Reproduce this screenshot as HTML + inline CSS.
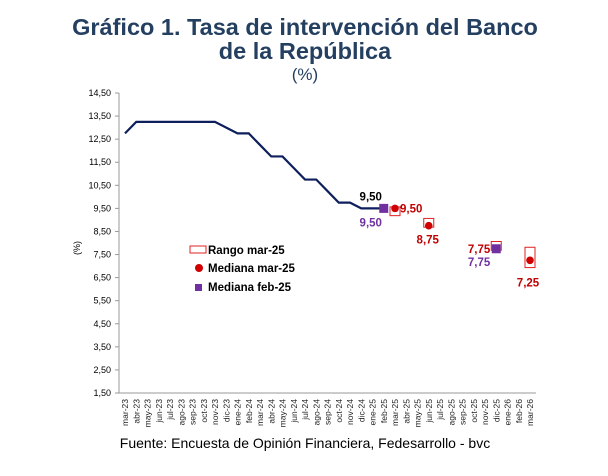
<!DOCTYPE html>
<html><head><meta charset="utf-8"><style>
body{margin:0;background:#fff;width:608px;height:471px;overflow:hidden;font-family:"Liberation Sans",Arial,sans-serif}
</style></head><body>
<svg width="608" height="471" xmlns="http://www.w3.org/2000/svg" font-family="Liberation Sans, Arial, sans-serif">
<text x="305" y="35" text-anchor="middle" font-size="23.5" font-weight="bold" fill="#243f60">Gráfico 1. Tasa de intervención del Banco</text>
<text x="305" y="59" text-anchor="middle" font-size="23.5" font-weight="bold" fill="#243f60">de la República</text>
<text x="305" y="80" text-anchor="middle" font-size="17" fill="#243f60">(%)</text>
<text x="305" y="448" text-anchor="middle" font-size="14" fill="#000">Fuente: Encuesta de Opinión Financiera, Fedesarrollo - bvc</text>
<text transform="translate(80,248) rotate(-90)" text-anchor="middle" font-size="9">(%)</text>
<g id="axes"></g><g id="marks"></g>
<g>
<rect x="190" y="246" width="16" height="7" fill="#fff" stroke="#e02020"/>
<text x="208" y="254" font-size="11.5" font-weight="bold">Rango mar-25</text>
<circle cx="199" cy="268" r="4" fill="#d00000"/>
<text x="208" y="272" font-size="11.5" font-weight="bold">Mediana mar-25</text>
<rect x="195" y="284" width="7" height="7" fill="#7030a0"/>
<text x="208" y="291" font-size="11.5" font-weight="bold">Mediana feb-25</text>
</g>
</svg>
<script>
const categories=["mar-23","abr-23","may-23","jun-23","jul-23","ago-23","sep-23","oct-23","nov-23","dic-23","ene-24","feb-24","mar-24","abr-24","may-24","jun-24","jul-24","ago-24","sep-24","oct-24","nov-24","dic-24","ene-25","feb-25","mar-25","abr-25","may-25","jun-25","jul-25","ago-25","sep-25","oct-25","nov-25","dic-25","ene-26","feb-26","mar-26"];
const rateValues=[12.75,13.25,13.25,13.25,13.25,13.25,13.25,13.25,13.25,13.0,12.75,12.75,12.25,11.75,11.75,11.25,10.75,10.75,10.25,9.75,9.75,9.5,9.5,9.5];
const medianMarCats=["mar-25","jun-25","dic-25","mar-26"];
const medianMarValues=[9.5,8.75,7.75,7.25];
const rangeLow=[9.25,8.75,7.75,7.0];
const rangeHigh=[9.5,9.0,8.0,7.75];
const medianFebCats=["feb-25","dic-25"];
const medianFebValues=[9.5,7.75];
const yTicks=[1.5,2.5,3.5,4.5,5.5,6.5,7.5,8.5,9.5,10.5,11.5,12.5,13.5,14.5];

const NS="http://www.w3.org/2000/svg";
const yMin=1.5,yMax=14.5,yTop=93,yBot=393,xLeft=119,xRight=536;
function y(v){return yBot-(v-yMin)/(yMax-yMin)*(yBot-yTop);}
function x(c){const i=categories.indexOf(c);return 125+i*(530-125)/(categories.length-1);}
function xi(i){return x(categories[i]);}
function fmt(v){return v.toFixed(2).replace('.',',');}
function mk(tag,attrs,parent,text){const e=document.createElementNS(NS,tag);for(const k in attrs)e.setAttribute(k,attrs[k]);if(text!==undefined)e.textContent=text;parent.appendChild(e);return e;}
const axes=document.getElementById('axes'),marks=document.getElementById('marks');

let e=mk('line',{x1:xLeft,y1:yTop,x2:xLeft,y2:yBot,stroke:'#999','stroke-width':1},axes);


e=mk('line',{x1:xLeft,y1:yBot,x2:xRight,y2:yBot,stroke:'#999','stroke-width':1},axes);


yTicks.forEach(v=>{
  let t=mk('line',{x1:xLeft-4,y1:y(v),x2:xLeft,y2:y(v),stroke:'#999'},axes);
  
  
  let l=mk('text',{x:xLeft-8,y:y(v)+3,'text-anchor':'end','font-size':9},axes,fmt(v));
  
  
});
categories.forEach((c,i)=>{
  let l=mk('text',{transform:`translate(${x(c)+3},${yBot+6}) rotate(-90)`,'text-anchor':'end','font-size':8.5,fill:'#222'},axes,c);
  
  
});
// line
let p=mk('polyline',{points:rateValues.map((v,i)=>xi(i)+','+y(v)).join(' '),fill:'none',stroke:'#0d1f5c','stroke-width':2.2},marks);


// ranges
medianMarCats.forEach((c,i)=>{
  let r=mk('rect',{x:x(c)-5,y:y(rangeHigh[i])-1.5,width:10,height:y(rangeLow[i])-y(rangeHigh[i])+3,fill:'#fff',stroke:'#e02020','stroke-width':1},marks);
  
  
});
medianMarCats.forEach((c,i)=>{
  let d=mk('circle',{cx:x(c),cy:y(medianMarValues[i]),r:3.8,fill:'#d00000'},marks);
  
  
});
medianFebCats.forEach((c,i)=>{
  let s=mk('rect',{x:x(c)-4.5,y:y(medianFebValues[i])-4.5,width:9,height:9,fill:'#7030a0'},marks);
  
  
});
// labels
function lab(xp,yp,txt,col,anchor,name){let t=mk('text',{x:xp,y:yp,'text-anchor':anchor||'middle','font-size':11.5,'font-weight':'bold',fill:col},marks,txt);}
const last=rateValues.length-1;
lab(xi(last)-13,y(rateValues[last])-8,fmt(rateValues[last]),'#000','middle','rate-last-label');
lab(x(medianFebCats[0])-13,y(medianFebValues[0])+18,fmt(medianFebValues[0]),'#7030a0','middle','median-feb-label');
lab(x(medianMarCats[0])+5,y(medianMarValues[0])+4,fmt(medianMarValues[0]),'#c00000','start','median-mar-label');
lab(x(medianMarCats[1])-1,y(medianMarValues[1])+18,fmt(medianMarValues[1]),'#c00000','middle','median-mar-label');
lab(x(medianMarCats[2])-6,y(medianMarValues[2])+4,fmt(medianMarValues[2]),'#c00000','end','median-mar-label');
lab(x(medianFebCats[1])-6,y(medianFebValues[1])+17,fmt(medianFebValues[1]),'#7030a0','end','median-feb-label');
lab(x(medianMarCats[3])-2,y(medianMarValues[3])+26,fmt(medianMarValues[3]),'#c00000','middle','median-mar-label');
</script>
</body></html>
